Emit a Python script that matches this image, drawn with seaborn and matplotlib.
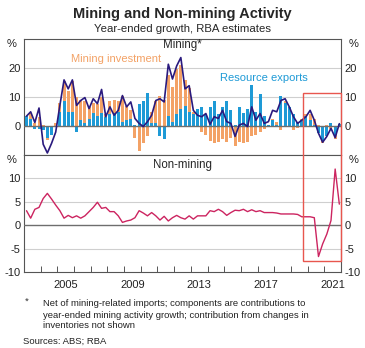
import numpy as np
import pandas as pd
import matplotlib
matplotlib.use("Agg")
import matplotlib.pyplot as plt
from matplotlib.patches import Rectangle
import seaborn as sns

# ---------------- data (year-ended growth, %) ----------------
quarters = [f"{2003 + i // 4}Q{i % 4 + 1}" for i in range(76)]

mining_total = [3.4, 4.9, 1.2, 6.2, -6.3, -9.3, -6.0, -2.1, 7.1, 15.9,
                12.8, 15.9, 7.1, 8.8, 9.8, 6.0, 9.4, 7.7, 12.6, 3.2,
                6.6, 3.7, 5.4, 10.5, 6.6, 8.3, 2.6, 0.9, -0.2, 1.5,
                3.7, 8.8, 9.4, 8.3, 21.3, 16.2, 20.7, 23.6, 12.8, 13.9,
                5.4, 3.7, 3.2, 4.3, 0.6, 3.2, 2.6, 5.4, 1.5, 0.9,
                -3.6, 0.3, 0.9, -0.2, 6.6, 2.0, 4.3, 0.9, 1.5, 5.4,
                4.9, 8.8, 9.4, 6.6, 3.2, 0.9, 2.0, 3.2, 5.4, 2.0,
                -2.5, -5.6, -3.6, -0.8, -4.0, 0.8]

resource_exports = [3.5, 2.5, -1.0, -1.2, -1.5, -4.2, -3.0, -0.5, 5.0, 8.5,
                    5.0, 5.0, -2.0, 2.0, 1.0, 2.5, 4.5, 3.5, 4.5, 3.0,
                    4.0, 4.5, 5.0, 1.5, 2.0, 2.5, 0.5, 7.5, 8.5, 11.5,
                    1.0, 1.0, -3.5, -4.5, 3.5, 1.5, 4.0, 6.0, 7.0, 5.0,
                    4.0, 6.0, 6.5, 4.0, 6.5, 8.5, 4.0, 6.5, 8.5, 5.5,
                    0.5, 6.5, 4.5, 6.0, 14.0, 5.0, 11.0, 3.5, 0.3, 2.0,
                    0.5, 10.5, 8.0, 6.5, 4.0, 1.5, 2.0, 3.5, 2.0, 0.5,
                    -2.3, -5.3, -3.6, 1.1, -3.0, 0.7]

mining_investment = [-0.5, 2.0, 1.0, 3.0, 0.3, -0.5, 0.0, 1.0, 3.0, 7.0,
                     7.0, 10.5, 10.0, 7.0, 7.5, 4.0, 3.5, 4.0, 5.5, 1.0,
                     4.5, 4.5, 3.5, 9.0, 5.0, 3.0, -4.0, -8.5, -6.0, -3.5,
                     4.0, 7.5, 10.5, 9.0, 14.0, 12.0, 15.5, 15.0, 9.0, 8.0,
                     1.0, -0.5, -2.0, -3.0, -5.0, -6.0, -5.5, -4.5, -5.5, -4.0,
                     -7.0, -5.5, -6.0, -5.5, -3.5, -3.0, -2.0, -1.0, -0.5, 0.5,
                     1.0, -1.5, 0.5, -0.5, -1.3, -0.8, 0.3, 0.5, 2.0, 2.0,
                     0.5, -0.5, 0.3, -1.0, -1.5, 0.0]

non_mining = [3.1, 1.5, 3.4, 3.8, 5.7, 6.8, 5.6, 4.3, 3.1, 1.5,
              2.1, 1.6, 2.0, 1.5, 2.0, 2.9, 3.8, 4.9, 3.6, 3.8,
              2.9, 2.9, 2.0, 0.6, 0.9, 1.1, 1.6, 3.1, 2.6, 2.0,
              2.7, 2.0, 1.1, 1.9, 0.9, 1.6, 2.1, 1.6, 1.3, 2.0,
              1.3, 2.0, 2.0, 2.0, 3.1, 2.9, 3.4, 2.9, 2.1, 2.7,
              3.2, 3.1, 3.4, 2.9, 3.3, 2.9, 3.1, 2.7, 2.7, 2.7,
              2.6, 2.4, 2.4, 2.4, 2.4, 2.3, 1.8, 1.8, 1.8, 1.6,
              -6.7, -4.0, -1.9, 1.0, 12.0, 4.5]

year_labels = ["2005", "2009", "2013", "2017", "2021"]
top_ticks = [0, 10, 20]
bottom_ticks = [-10, -5, 0, 5, 10]

# ---------------- frame ----------------
df = pd.DataFrame({"q": quarters, "total": mining_total,
                   "exports": resource_exports, "invest": mining_investment,
                   "nonmining": non_mining})
df["x"] = [int(q[:4]) + (int(q[-1]) - 1) * 0.25 + 0.15 for q in df["q"]]
b = df["exports"]; o = df["invest"]
df["pos_stack"] = b.clip(lower=0) + o.clip(lower=0)
df["neg_stack"] = b.clip(upper=0) + o.clip(upper=0)
df["b_pos"] = b.clip(lower=0)
df["b_neg"] = b.clip(upper=0)

BLUE = "#1e9ad6"
ORANGE = "#f3a266"
NAVY = "#2a1a7e"
CRIMSON = "#cc2460"
RED = "#e8564e"
SPINE = "#555555"
GRID = "#cfcfcf"

sns.set_style("white")
plt.rcParams["font.family"] = ["Liberation Sans", "DejaVu Sans"]

W, H = 365, 348
fig = plt.figure(figsize=(W / 100, H / 100), dpi=100)
L, R, T, M, B = 24, 341, 39, 155, 272
ax1 = fig.add_axes([L / W, 1 - M / H, (R - L) / W, (M - T) / H])
ax2 = fig.add_axes([L / W, 1 - B / H, (R - L) / W, (B - M) / H])

# ---------------- top panel ----------------
for col, colr in [("pos_stack", ORANGE), ("neg_stack", ORANGE), ("b_pos", BLUE), ("b_neg", BLUE)]:
    sns.barplot(data=df, x="x", y=col, native_scale=True, width=0.72, color=colr,
                saturation=1, errorbar=None, linewidth=0, ax=ax1, zorder=2)
sns.lineplot(data=df, x="x", y="total", color=NAVY, linewidth=1.2, ax=ax1, zorder=5)

# ---------------- bottom panel ----------------
sns.lineplot(data=df, x="x", y="nonmining", color=CRIMSON, linewidth=1.0, ax=ax2, zorder=5)

for ax, ylim, ticks in [(ax1, (-10, 30), top_ticks), (ax2, (-10, 15), bottom_ticks)]:
    ax.set_xlim(2003, 2022)
    ax.set_ylim(*ylim)
    ax.set_xlabel("")
    ax.set_ylabel("")
    for t in ticks:
        if t == 0:
            ax.axhline(0, color="#6e6e6e", lw=1.0, zorder=4)
        elif ylim[0] < t < ylim[1]:
            ax.axhline(t, color=GRID, lw=0.8, zorder=1)
    ax.set_yticks(ticks)
    ax.set_yticklabels([str(t) for t in ticks])
    ax.tick_params(axis="y", length=0, labelsize=8, pad=2.5,
                   labelleft=True, labelright=True, colors="#222222")
    for s in ax.spines.values():
        s.set_color(SPINE)
        s.set_linewidth(0.8)
    ax.text(-0.025, 1 - 5 / 116, "%", transform=ax.transAxes, ha="right",
            va="center", fontsize=8, color="#222222")
    ax.text(1.025, 1 - 5 / 116, "%", transform=ax.transAxes, ha="left",
            va="center", fontsize=8, color="#222222")

ax1.set_xticks([])
ax2.set_xticks(list(range(2004, 2022)))
ax2.set_xticklabels([])
ax2.tick_params(axis="x", which="major", direction="in", length=4,
                color=SPINE, width=0.7, bottom=True)
ax2.set_xticks([int(y) + 0.5 for y in year_labels], minor=True)
ax2.set_xticklabels(year_labels, minor=True)
ax2.tick_params(axis="x", which="minor", length=0, labelsize=8, pad=6,
                colors="#222222")

ax1.text(0.5, 1 - 6 / 116, "Mining*", transform=ax1.transAxes, ha="center",
         va="center", fontsize=8.3)
ax2.text(0.5, 1 - 10 / 117, "Non-mining", transform=ax2.transAxes, ha="center",
         va="center", fontsize=8.3)
ax1.text(2008.5, 23.1, "Mining investment", color=ORANGE, ha="center",
         va="center", fontsize=8)
ax1.text(2017.4, 16.5, "Resource exports", color=BLUE, ha="center",
         va="center", fontsize=8)

# red highlight box spanning both panels
fig.canvas.draw()
inv = fig.transFigure.inverted()
p0 = inv.transform(ax2.transData.transform((2019.72, -7.6)))
p1 = inv.transform(ax1.transData.transform((2022.0, 11.4)))
fig.add_artist(Rectangle(p0, p1[0] - p0[0], p1[1] - p0[1], transform=fig.transFigure,
                         fill=False, edgecolor=RED, linewidth=1.0, zorder=10))

# ---------------- titles and notes ----------------
fig.text(0.5, 1 - 14 / H, "Mining and Non-mining Activity", ha="center", va="center",
         fontsize=10.5, fontweight="bold")
fig.text(0.5, 1 - 29.5 / H, "Year-ended growth, RBA estimates", ha="center",
         va="center", fontsize=8.2)
fig.text(25 / W, 1 - 301 / H, "*", fontsize=6.8, va="center", color="#333333")
notes = ["Net of mining-related imports; components are contributions to",
         "year-ended mining activity growth; contribution from changes in",
         "inventories not shown"]
for k, line in enumerate(notes):
    fig.text(43 / W, 1 - (304 + 11 * k) / H, line, fontsize=6.8, va="center",
             color="#222222")
fig.text(23 / W, 1 - 341 / H, "Sources: ABS; RBA", fontsize=6.8, va="center",
         color="#222222")

fig.savefig("out.png", dpi=100)
